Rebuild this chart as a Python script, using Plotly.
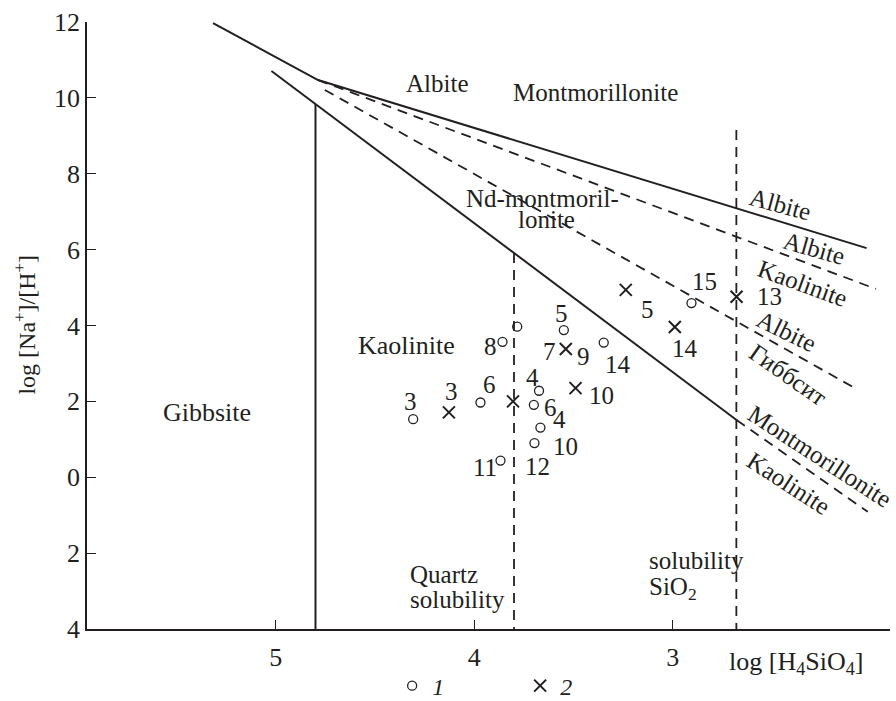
import plotly.graph_objects as go

# ---- stability field boundaries (log[H4SiO4], log[Na+]/[H+]) ----
albite_upper_x = [-5.316, -4.787, -2.024]
albite_upper_y = [11.97, 10.47, 6.04]

kaolinite_solid_x = [-5.022, -2.679]
kaolinite_solid_y = [10.71, 1.51]
kaolinite_ext_x = [-2.679, -2.018]
kaolinite_ext_y = [1.51, -0.91]

albite_kaol_x = [-4.787, -1.977]
albite_kaol_y = [10.47, 4.964]
albite_gibb_x = [-4.753, -2.066]
albite_gibb_y = [10.21, 2.30]

gibbsite_boundary_x = -4.80
quartz_solubility_x = -3.80
sio2_solubility_x = -2.68
sio2_line_top = 9.15
y_bottom = -4.0

# ---- samples ----
s1_x = [-4.308, -3.969, -3.858, -3.784, -3.549, -3.674, -3.700, -3.667, -3.697, -3.868, -3.348, -2.906]
s1_y = [1.53, 1.97, 3.57, 3.97, 3.88, 2.28, 1.91, 1.31, 0.90, 0.44, 3.55, 4.59]
s1_labels = [
    [("3", -3, 18)], [("6", 9, 18)], [("8", -12, -5)], [], [("5", -2, 17)],
    [("4", -7, 13)], [("6", 17, -3)], [("4", 19, 8)],
    [("10", 31, -3), ("12", 3, -23)], [("11", -16, -7)], [("14", 14, -22)], [("15", 13, 22)],
]

s2_x = [-4.128, -3.805, -3.539, -3.490, -3.237, -2.990, -2.679]
s2_y = [1.71, 2.00, 3.38, 2.35, 4.94, 3.96, 4.76]
s2_labels = [
    [("3", 3, 21)], [], [("7", -16, -2), ("9", 18, -7)], [("10", 26, -7)],
    [("5", 22, -20)], [("14", 10, -21)], [("13", 33, 0)],
]

y_tickvals = [12, 10, 8, 6, 4, 2, 0, -2, -4]
y_ticktext = ["12", "10", "8", "6", "4", "2", "0", "2", "4"]
x_tickvals = [-5, -4, -3]
x_ticktext = ["5", "4", "3"]

INK = "#231f20"
FONT = "Liberation Serif"
FS = 25

fig = go.Figure()

def seg(xs, ys, dash="solid", width=2.0):
    fig.add_trace(go.Scatter(x=xs, y=ys, mode="lines", showlegend=False, hoverinfo="skip",
                             line=dict(color=INK, width=width, dash=dash)))

DASH = "10px,7px"
seg(albite_upper_x, albite_upper_y)
seg(kaolinite_solid_x, kaolinite_solid_y)
seg(kaolinite_ext_x, kaolinite_ext_y, DASH, 1.8)
seg(albite_kaol_x, albite_kaol_y, DASH, 1.8)
seg(albite_gibb_x, albite_gibb_y, DASH, 1.8)

def y_on_kaolinite(x):
    x0, x1 = kaolinite_solid_x
    y0, y1 = kaolinite_solid_y
    return y0 + (x - x0) * (y1 - y0) / (x1 - x0)

seg([gibbsite_boundary_x] * 2, [y_on_kaolinite(gibbsite_boundary_x), y_bottom])
seg([quartz_solubility_x] * 2, [y_on_kaolinite(quartz_solubility_x), y_bottom], DASH, 1.8)
seg([sio2_solubility_x] * 2, [sio2_line_top, y_bottom], DASH, 1.8)

fig.add_trace(go.Scatter(x=s1_x, y=s1_y, mode="markers", name="<i>1</i>",
                         marker=dict(symbol="circle-open", size=9, color=INK, line=dict(width=1.3, color=INK))))
fig.add_trace(go.Scatter(x=s2_x, y=s2_y, mode="markers", name="<i>2</i>",
                         marker=dict(symbol="x-thin-open", size=12, color=INK, line=dict(width=2, color=INK))))

ann = []

def label(text, x, y, angle=0, xanchor="center", size=FS, xref="x", yref="y", **kw):
    ann.append(dict(text=text, x=x, y=y, xref=xref, yref=yref, showarrow=False, textangle=angle,
                    xanchor=xanchor, yanchor="middle", font=dict(family=FONT, size=size, color=INK), **kw))

for xs, ys, labs in ((s1_x, s1_y, s1_labels), (s2_x, s2_y, s2_labels)):
    for x, y, items in zip(xs, ys, labs):
        for t, dx, dy in items:
            label(t, x, y, xshift=dx, yshift=dy)

# field names
label("Albite", -4.184, 10.39)
label("Montmorillonite", -3.391, 10.13)
label("Nd-montmoril-", -3.657, 7.36)
label("lonite", -3.636, 6.80)
label("Kaolinite", -4.340, 3.46, size=26)
label("Gibbsite", -5.349, 1.70, size=26)
label("Quartz", -4.335, -2.57, xanchor="left")
label("solubility", -4.335, -3.23, xanchor="left")
label("solubility", -3.131, -2.20, xanchor="left")
label("SiO<sub>2</sub>", -3.131, -2.93, xanchor="left")

# boundary names along the right-hand lines
label("Albite", -2.456, 7.18, angle=15)
label("Albite", -2.285, 6.04, angle=16)
label("Kaolinite", -2.345, 5.10, angle=20)
label("Albite", -2.426, 3.83, angle=26)
label("Гиббсит", -2.421, 2.70, angle=35)
label("Montmorillonite", -2.259, 0.54, angle=33)
label("Kaolinite", -2.416, -0.17, angle=33)

# axis titles
label("log [Na<sup>+</sup>]/[H<sup>+</sup>]", -0.0776, 0.501, angle=-90, xref="paper", yref="paper", size=24)
label("log [H<sub>4</sub>SiO<sub>4</sub>]", 0.797, -0.056, xanchor="left", xref="paper", yref="paper", size=26)

fig.update_layout(
    width=896, height=701,
    margin=dict(l=87, r=6, t=22, b=72, autoexpand=False),
    paper_bgcolor="white", plot_bgcolor="white",
    font=dict(family=FONT, size=FS, color=INK),
    annotations=ann,
    showlegend=True,
    legend=dict(orientation="h", x=0.38, y=-0.094, xanchor="left", yanchor="middle",
                entrywidth=83, entrywidthmode="pixels", font=dict(family=FONT, size=24, color=INK),
                bgcolor="rgba(0,0,0,0)"),
    xaxis=dict(range=[-5.951, -1.906], showgrid=False, zeroline=False, showline=True,
               linecolor=INK, linewidth=1.5, ticks="inside", ticklen=9, tickwidth=1.3, tickcolor=INK,
               ticklabelstandoff=4,
               tickvals=x_tickvals, ticktext=x_ticktext, tickfont=dict(family=FONT, size=26, color=INK)),
    yaxis=dict(range=[y_bottom, 12], showgrid=False, zeroline=False, showline=True,
               linecolor=INK, linewidth=1.5, ticks="inside", ticklen=9, tickwidth=1.3, tickcolor=INK,
               tickvals=y_tickvals, ticktext=y_ticktext, tickfont=dict(family=FONT, size=26, color=INK)),
)

fig.write_html("out.html")
